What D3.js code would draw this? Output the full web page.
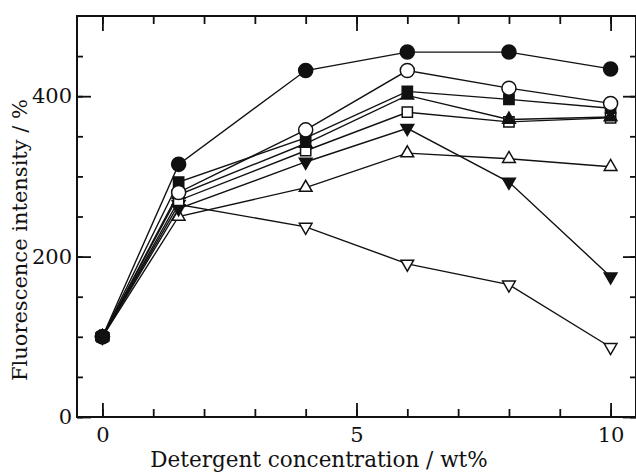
<!DOCTYPE html>
<html>
<head>
<meta charset="utf-8">
<script src="https://cdn.jsdelivr.net/npm/d3@7"></script>
<style>
  body { margin: 0; background: #fff; }
  text { font-family: "DejaVu Serif", "Liberation Serif", serif; fill: #111; }
</style>
</head>
<body>
<div id="chart"></div>
<script>
// Concentrations (wt%)
var concentrations = [0, 1.5, 4, 6, 8, 10];

// Fluorescence intensity (%) per series
var filledCircle   = [100, 315, 432, 455, 455, 434];
var openCircle     = [100, 280, 358, 432, 410, 391];
var filledSquare   = [100, 293, 348, 406, 396, 385];
var filledUp       = [100, 277, 341, 401, 371, 374];
var openSquare     = [100, 270, 332, 380, 368, 373];
var filledDown     = [100, 260, 318, 360, 293, 175];
var openUp         = [100, 250, 286, 329, 322, 312];
var openDown       = [100, 265, 237, 191, 165, 87];

var xMajor = [0, 5, 10];
var xMinor = [0, 1, 2, 3, 4, 5, 6, 7, 8, 9, 10];
var yMajor = [0, 200, 400];
var yMinor = [0, 50, 100, 150, 200, 250, 300, 350, 400, 450];

var series = [
  { values: openDown, shape: "triangle", down: true, filled: false },
  { values: openUp, shape: "triangle", down: false, filled: false },
  { values: filledDown, shape: "triangle", down: true, filled: true },
  { values: openSquare, shape: "square", down: false, filled: false },
  { values: filledUp, shape: "triangle", down: false, filled: true },
  { values: filledSquare, shape: "square", down: false, filled: true },
  { values: openCircle, shape: "circle", down: false, filled: false },
  { values: filledCircle, shape: "circle", down: false, filled: true }
];

var svgWidth = 636;
var svgHeight = 473;
var plot = { left: 77, top: 16, right: 636, bottom: 417 };

var svg = d3.select("#chart")
  .append("svg")
  .attr("width", svgWidth)
  .attr("height", svgHeight);

var x = d3.scaleLinear().domain([-0.5, 10.5]).range([plot.left, plot.right]);
var y = d3.scaleLinear().domain([0, 500]).range([plot.bottom, plot.top]);

function styleAxis(g) {
  g.select(".domain").remove();
  g.selectAll("line").attr("stroke", "#111").attr("stroke-width", 1.8);
}

// minor ticks (all four sides)
svg.append("g").attr("transform", `translate(0,${plot.bottom})`)
  .call(d3.axisBottom(x).tickValues(xMinor).tickSize(-8).tickFormat(""))
  .call(styleAxis);
svg.append("g").attr("transform", `translate(0,${plot.top})`)
  .call(d3.axisTop(x).tickValues(xMinor).tickSize(-8).tickFormat(""))
  .call(styleAxis);
svg.append("g").attr("transform", `translate(${plot.left},0)`)
  .call(d3.axisLeft(y).tickValues(yMinor).tickSize(-6).tickFormat(""))
  .call(styleAxis);
svg.append("g").attr("transform", `translate(${plot.right},0)`)
  .call(d3.axisRight(y).tickValues(yMinor).tickSize(-6).tickFormat(""))
  .call(styleAxis);

// major ticks with labels
var xAxis = svg.append("g").attr("transform", `translate(0,${plot.bottom})`)
  .call(d3.axisBottom(x).tickValues(xMajor).tickSize(-14).tickPadding(10).tickFormat(d3.format("d")))
  .call(styleAxis);
xAxis.selectAll("text").attr("font-size", 21).attr("font-family", "DejaVu Serif").attr("fill", "#111");

svg.append("g").attr("transform", `translate(0,${plot.top})`)
  .call(d3.axisTop(x).tickValues(xMajor).tickSize(-15).tickFormat(""))
  .call(styleAxis);

var yAxis = svg.append("g").attr("transform", `translate(${plot.left},0)`)
  .call(d3.axisLeft(y).tickValues(yMajor).tickSize(-14).tickPadding(5).tickFormat(d3.format("d")))
  .call(styleAxis);
yAxis.selectAll("text").attr("font-size", 21).attr("font-family", "DejaVu Serif").attr("fill", "#111");

svg.append("g").attr("transform", `translate(${plot.right},0)`)
  .call(d3.axisRight(y).tickValues(yMajor).tickSize(-13).tickFormat(""))
  .call(styleAxis);

// frame
svg.append("rect")
  .attr("x", plot.left)
  .attr("y", plot.top)
  .attr("width", plot.right - plot.left)
  .attr("height", plot.bottom - plot.top)
  .attr("fill", "none")
  .attr("stroke", "#111")
  .attr("stroke-width", 2);

// lines
var line = d3.line()
  .x((d, i) => x(concentrations[i]))
  .y(d => y(d));

series.forEach(function(s) {
  svg.append("path")
    .datum(s.values)
    .attr("d", line)
    .attr("fill", "none")
    .attr("stroke", "#111")
    .attr("stroke-width", 1.4);
});

// markers
var symbolTypes = { circle: d3.symbolCircle, square: d3.symbolSquare, triangle: d3.symbolTriangle };
var symbolSizes = { circle: 155, square: 105, triangle: 70 };

series.forEach(function(s) {
  var sym = d3.symbol().type(symbolTypes[s.shape]).size(symbolSizes[s.shape]);
  svg.append("g").selectAll("path")
    .data(s.values)
    .enter()
    .append("path")
    .attr("d", sym)
    .attr("transform", (d, i) => `translate(${x(concentrations[i])},${y(d)})` + (s.down ? " rotate(180)" : ""))
    .attr("fill", s.filled ? "#111" : "#fff")
    .attr("stroke", "#111")
    .attr("stroke-width", 1.5);
});

// axis titles
svg.append("text")
  .attr("x", 319)
  .attr("y", 467)
  .attr("text-anchor", "middle")
  .attr("font-size", 21.5)
  .text("Detergent concentration / wt%");

svg.append("text")
  .attr("transform", "translate(27,240) rotate(-90)")
  .attr("text-anchor", "middle")
  .attr("font-size", 21)
  .text("Fluorescence intensity / %");
</script>
</body>
</html>
